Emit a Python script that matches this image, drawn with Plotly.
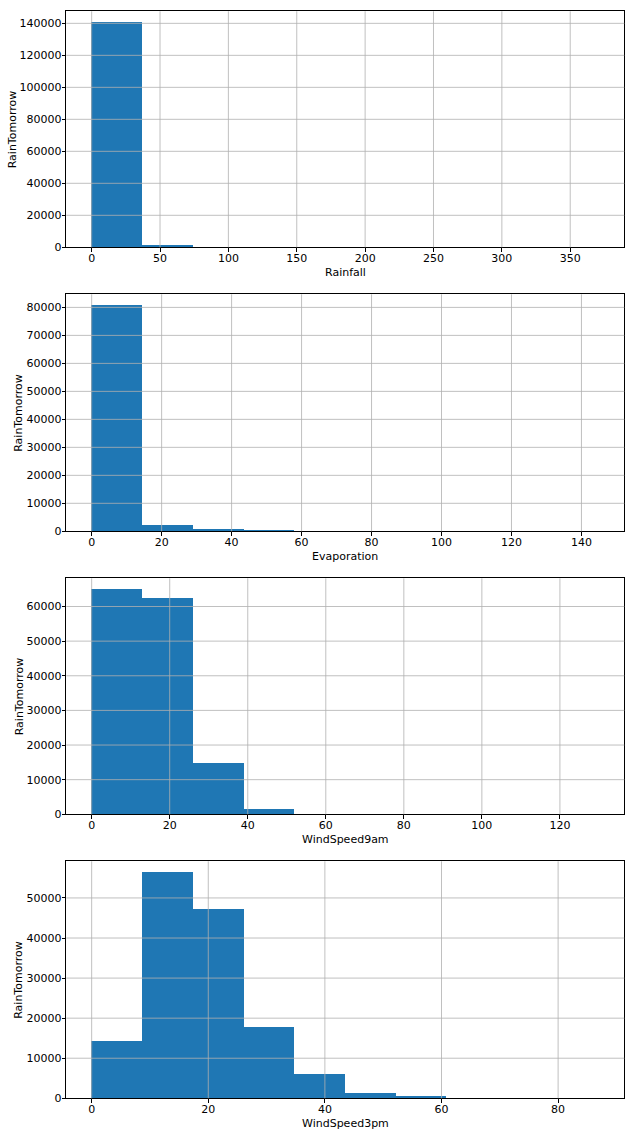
import numpy as np
import plotly.graph_objects as go

# ---- data (histogram counts, 10 bins each) ----
variables = ["Rainfall", "Evaporation", "WindSpeed9am", "WindSpeed3pm"]
data_min = [0.0, 0.0, 0.0, 0.0]
data_max = [371.0, 145.0, 130.0, 87.0]
rainfall_counts = [140500, 1550, 0, 0, 0, 0, 0, 0, 0, 0]
evaporation_counts = [80650, 2200, 380, 330, 0, 0, 0, 0, 0, 0]
windspeed9am_counts = [64900, 62400, 14640, 1450, 0, 0, 0, 0, 0, 0]
windspeed3pm_counts = [14330, 56330, 47080, 17830, 6080, 1250, 280, 0, 0, 0]
counts = [rainfall_counts, evaporation_counts, windspeed9am_counts, windspeed3pm_counts]
x_dtick = [50, 20, 20, 20]
y_dtick = [20000, 10000, 10000, 10000]
y_label = "RainTomorrow"

W, H = 634, 1136
left_px, right_px = 66.3, 624.3
tops_px = [11.3, 294.3, 578.3, 861.3]
bots_px = [247.3, 531.3, 814.3, 1098.3]

FONT = "DejaVu Sans"
BLUE = "#1f77b4"
GRID = "#b0b0b0"

fig = go.Figure()
shapes = []
annotations = []
layout = dict(
    template="none",
    width=W, height=H,
    margin=dict(l=0, r=0, t=0, b=0, pad=0, autoexpand=False),
    paper_bgcolor="white", plot_bgcolor="white",
    showlegend=False, bargap=0,
    font=dict(family=FONT, size=11, color="black"),
)

for i in range(4):
    n = i + 1
    xa = "x" if n == 1 else f"x{n}"
    ya = "y" if n == 1 else f"y{n}"
    edges = np.linspace(data_min[i], data_max[i], len(counts[i]) + 1)
    centers = (edges[:-1] + edges[1:]) / 2
    widths = np.diff(edges)
    fig.add_trace(go.Bar(
        x=centers, y=counts[i], width=widths,
        marker=dict(color=BLUE, line=dict(width=0)),
        xaxis=xa, yaxis=ya, hoverinfo="x+y",
    ))
    span = data_max[i] - data_min[i]
    xr = [data_min[i] - 0.05 * span, data_max[i] + 0.05 * span]
    yr = [0, max(counts[i]) * 1.05]
    axis_common = dict(
        showline=True, linecolor="black", linewidth=1, mirror=True,
        ticks="outside", ticklen=3.5, tickwidth=0.8, tickcolor="black",
        showgrid=False, zeroline=False, layer="above traces",
        automargin=False,
        tickfont=dict(family=FONT, size=11, color="black"),
    )
    layout["xaxis" if n == 1 else f"xaxis{n}"] = dict(
        axis_common, domain=[left_px / W, right_px / W], anchor=ya,
        range=xr, dtick=x_dtick[i], tick0=0, ticklabelstandoff=-3,
    )
    layout["yaxis" if n == 1 else f"yaxis{n}"] = dict(
        axis_common, domain=[1 - bots_px[i] / H, 1 - tops_px[i] / H], anchor=xa,
        range=yr, dtick=y_dtick[i], tick0=0, tickformat="d", ticklabelstandoff=-2,
    )
    # grid lines drawn above bars (matplotlib style)
    xt = np.arange(np.ceil(xr[0] / x_dtick[i]) * x_dtick[i], xr[1], x_dtick[i])
    for v in xt:
        shapes.append(dict(type="line", xref=xa, yref=f"{ya} domain",
                           x0=v, x1=v, y0=0, y1=1, layer="above",
                           line=dict(color=GRID, width=0.8)))
    yt = np.arange(y_dtick[i], yr[1], y_dtick[i])
    for v in yt:
        shapes.append(dict(type="line", xref=f"{xa} domain", yref=ya,
                           x0=0, x1=1, y0=v, y1=v, layer="above",
                           line=dict(color=GRID, width=0.8)))
    # axis titles
    annotations.append(dict(
        text=variables[i], xref="paper", yref="paper",
        x=(left_px + right_px) / 2 / W, y=1 - (bots_px[i] + 25) / H,
        xanchor="center", yanchor="middle", showarrow=False,
        font=dict(family=FONT, size=11, color="black"),
    ))
    annotations.append(dict(
        text=y_label, xref="paper", yref="paper",
        x=(12 if i == 0 else 19) / W, y=1 - (tops_px[i] + bots_px[i]) / 2 / H,
        xanchor="center", yanchor="middle", textangle=-90, showarrow=False,
        font=dict(family=FONT, size=11, color="black"),
    ))

layout["shapes"] = shapes
layout["annotations"] = annotations
fig.update_layout(**layout)
fig.write_html(
    "out.html",
    config={"displayModeBar": False},
    post_script="document.body.style.margin='0';document.body.style.overflow='hidden';",
)
